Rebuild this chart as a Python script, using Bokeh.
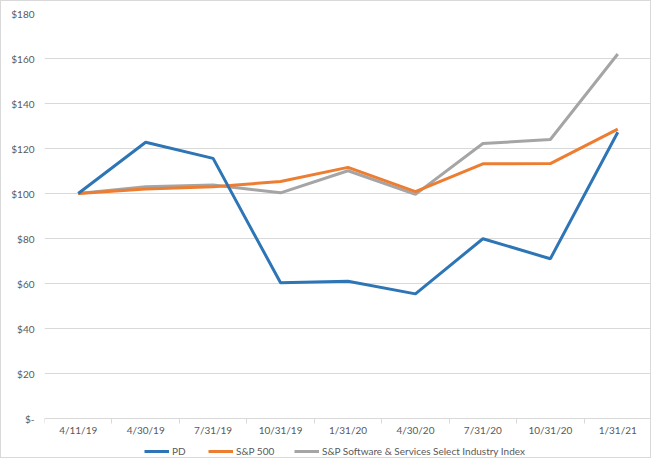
from bokeh.plotting import figure
from bokeh.models import ColumnDataSource, FixedTicker, Range1d, Legend, LegendItem
from bokeh.embed import file_html
from bokeh.resources import INLINE

dates = ["4/11/19", "4/30/19", "7/31/19", "10/31/19", "1/31/20", "4/30/20", "7/31/20", "10/31/20", "1/31/21"]
pd_vals = [100, 122.8, 115.6, 60.3, 61.0, 55.4, 79.9, 71.0, 127.2]
sp500_vals = [100, 102.0, 103.0, 105.3, 111.6, 100.8, 113.2, 113.3, 128.6]
software_vals = [100, 103.0, 103.8, 100.3, 110.1, 99.6, 122.2, 124.0, 162.0]
series_names = ["PD", "S&P 500", "S&P Software & Services Select Industry Index"]
y_ticks = [0, 20, 40, 60, 80, 100, 120, 140, 160, 180]
y_labels = ["$-", "$20", "$40", "$60", "$80", "$100", "$120", "$140", "$160", "$180"]

FONT = "Lato"
TXT = "#595959"
W, H = 651, 458
TOP, LEFT, RIGHT = 12, 43, 1
AXIS_Y = 417  # pixel row of the value 0
y_max = 180
y_min = -y_max * (H - AXIS_Y) / (AXIS_Y - TOP)  # extend frame below the axis to hold the legend

xs = [i + 0.5 for i in range(len(dates))]
src = ColumnDataSource(dict(x=xs, pd=pd_vals, sp=sp500_vals, sw=software_vals))

p = figure(width=W, height=H, output_backend="svg", toolbar_location=None,
           x_range=Range1d(0, len(dates)), y_range=Range1d(y_min, y_max),
           min_border_left=LEFT, min_border_right=RIGHT, min_border_top=TOP, min_border_bottom=0)
p.outline_line_color = None
p.background_fill_color = "white"
p.border_fill_color = "white"

r_pd = p.line("x", "pd", source=src, line_color="#2E75B6", line_width=3)
r_sp = p.line("x", "sp", source=src, line_color="#ED7D31", line_width=3)
r_sw = p.line("x", "sw", source=src, line_color="#A5A5A5", line_width=3)
p.renderers = [r_sw, r_sp, r_pd]

# x axis pinned at value 0
p.xaxis.fixed_location = 0
p.xaxis.ticker = FixedTicker(ticks=xs, minor_ticks=list(range(len(dates) + 1)))
p.xaxis.major_label_overrides = {x: d for x, d in zip(xs, dates)}
p.xaxis.major_tick_line_color = None
p.xaxis.major_tick_out = 0
p.xaxis.major_tick_in = 0
p.xaxis.minor_tick_line_color = "#D9D9D9"
p.xaxis.minor_tick_out = 5
p.xaxis.minor_tick_in = 0
p.xaxis.axis_line_color = "#D9D9D9"
p.xaxis.major_label_standoff = 0
p.xaxis.major_label_text_font = FONT
p.xaxis.major_label_text_font_size = "10px"
p.xaxis.major_label_text_color = TXT
p.xgrid.grid_line_color = None

# y axis
p.yaxis.ticker = FixedTicker(ticks=y_ticks)
p.yaxis.major_label_overrides = {t: l for t, l in zip(y_ticks, y_labels)}
p.yaxis.axis_line_color = None
p.yaxis.major_tick_line_color = None
p.yaxis.major_tick_out = 0
p.yaxis.major_tick_in = 0
p.yaxis.minor_tick_line_color = None
p.yaxis.major_label_standoff = 10
p.yaxis.major_label_text_font = FONT
p.yaxis.major_label_text_font_size = "10px"
p.yaxis.major_label_text_color = TXT
p.ygrid.grid_line_color = "#D9D9D9"
p.ygrid.grid_line_width = 1

# one legend per series so that each entry sits where the reference has it
legend_x = [100, 164, 250]  # offsets from the frame's left edge
for name, rend, lx in zip(series_names, [r_pd, r_sp, r_sw], legend_x):
    lg = Legend(items=[LegendItem(label=name, renderers=[rend])],
                orientation="horizontal", location=(lx, 1),
                glyph_width=25, glyph_height=14, label_height=14, label_width=0,
                label_standoff=3, spacing=0, padding=0, margin=0,
                border_line_color=None, background_fill_alpha=0,
                label_text_font=FONT, label_text_font_size="10px", label_text_color=TXT)
    p.add_layout(lg, "center")

p.styles = {"border": "1px solid #D9D9D9"}

open("out.html", "w").write(file_html(p, INLINE))
